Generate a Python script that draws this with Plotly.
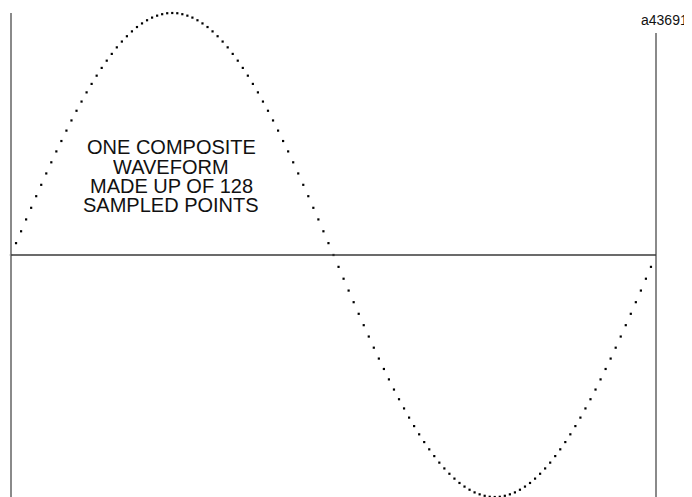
import plotly.graph_objects as go

quarter = [0.000, 0.049, 0.098, 0.147, 0.195, 0.243, 0.290, 0.337,
           0.383, 0.428, 0.471, 0.514, 0.556, 0.596, 0.634, 0.672,
           0.707, 0.741, 0.773, 0.803, 0.831, 0.858, 0.882, 0.904,
           0.924, 0.942, 0.957, 0.970, 0.981, 0.989, 0.995, 0.999, 1.000]
half_wave = quarter + quarter[-2:0:-1]          # 64 samples (0..63)
samples = half_wave + [-v for v in half_wave]  # 128 samples
sample_index = list(range(len(samples)))

label_lines = ["ONE COMPOSITE", "WAVEFORM", "MADE UP OF 128", "SAMPLED POINTS"]
figure_id = "a43691"

# the page body has an 8px margin; the figure is sized/offset to compensate
OFF = 8
W, H = 692 - OFF, 497 - OFF
x0_px, px_per_sample = 11 - OFF, 645 / 128
y0_px, px_per_unit = 255 - OFF, 242

fig = go.Figure()
fig.add_trace(go.Scatter(
    x=sample_index, y=samples, mode="markers",
    marker=dict(size=2.2, color="#000000", symbol="square"),
    hoverinfo="skip", showlegend=False))

# frame lines
fig.add_shape(type="line", x0=0, x1=0, y0=-1.05, y1=(255 - 13) / px_per_unit,
              line=dict(color="#8a8a8a", width=2))
fig.add_shape(type="line", x0=128, x1=128, y0=-1.05, y1=(255 - 33) / px_per_unit,
              line=dict(color="#8a8a8a", width=2))
fig.add_shape(type="line", x0=0, x1=128, y0=0, y1=0,
              line=dict(color="#3a3a3a", width=1.5))

line_y_px = [147, 166.5, 186, 205.5]
for txt, ypx in zip(label_lines, line_y_px):
    fig.add_annotation(text=txt, xref="paper", yref="paper",
                       x=(171 - OFF) / W, y=1 - (ypx - OFF) / H,
                       xanchor="center", yanchor="middle", height=18, borderpad=0,
                       showarrow=False, font=dict(family="Liberation Sans, Arial", size=20, color="#111111"))

fig.add_annotation(text=figure_id, xref="paper", yref="paper",
                   x=(690 - OFF) / W, y=1 - (20 - OFF) / H, xanchor="right", yanchor="middle",
                   showarrow=False, font=dict(family="Liberation Sans, Arial", size=14, color="#111111"))

fig.update_xaxes(visible=False, range=[-x0_px / px_per_sample, (W - x0_px) / px_per_sample])
fig.update_yaxes(visible=False, range=[-(H - y0_px) / px_per_unit, y0_px / px_per_unit])
fig.update_layout(width=W, height=H, margin=dict(l=0, r=0, t=0, b=0),
                  plot_bgcolor="white", paper_bgcolor="white")

fig.write_html("out.html", config={"displayModeBar": False})
